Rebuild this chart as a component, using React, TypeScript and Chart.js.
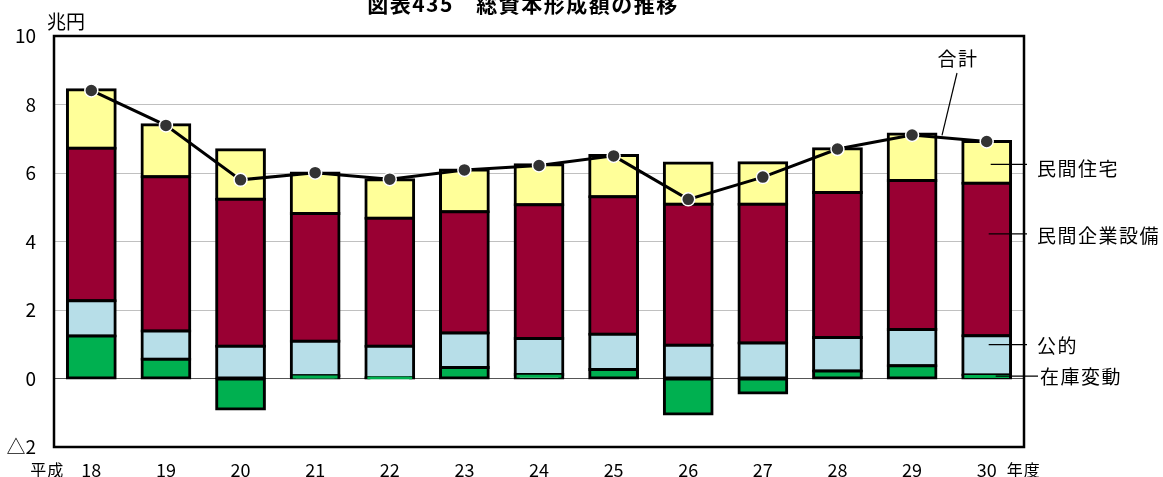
import React, { useEffect, useRef } from "react";
import { Chart, registerables } from "chart.js";

Chart.register(...registerables);

const categories = ["18", "19", "20", "21", "22", "23", "24", "25", "26", "27", "28", "29", "30"];
const inventory = [1.24, 0.56, -0.89, 0.08, 0.02, 0.32, 0.12, 0.26, -1.04, -0.42, 0.22, 0.37, 0.1];
const publicInv = [1.03, 0.83, 0.94, 1.01, 0.92, 1.01, 1.05, 1.03, 0.97, 1.04, 0.98, 1.06, 1.15];
const business = [4.45, 4.5, 4.29, 3.73, 3.74, 3.54, 3.9, 4.02, 4.12, 4.05, 4.23, 4.35, 4.45];
const housing = [1.71, 1.52, 1.45, 1.18, 1.12, 1.22, 1.17, 1.2, 1.2, 1.21, 1.28, 1.36, 1.22];
const total = [8.41, 7.39, 5.8, 6.01, 5.82, 6.09, 6.22, 6.5, 5.23, 5.88, 6.7, 7.11, 6.92];

const title = "図表435\u3000総資本形成額の推移";
const unitLabel = "兆円";
const xPrefix = "平成";
const xSuffix = "年度";
const seriesNames = ["在庫変動", "公的", "民間企業設備", "民間住宅", "合計"];

const JP = '"Noto Sans CJK JP", "Noto Sans", sans-serif';

const textPlugin = {
  id: "textPlugin",
  beforeDatasetsDraw(chart: any) {
    const { ctx, chartArea } = chart;
    ctx.save();
    ctx.strokeStyle = "#000";
    ctx.lineWidth = 2.5;
    ctx.strokeRect(chartArea.left, chartArea.top, chartArea.right - chartArea.left, chartArea.bottom - chartArea.top);
    ctx.restore();
  },
  afterDatasetsDraw(chart: any) {
    const { ctx, chartArea } = chart;
    const xs = chart.scales.x;
    const ys = chart.scales.y;
    ctx.save();
    ctx.fillStyle = "#000";
    ctx.textBaseline = "middle";

    // title
    ctx.font = `bold 21px ${JP}`;
    ctx.textAlign = "center";
    (ctx as any).letterSpacing = "1.5px";
    ctx.fillText(title, 523, 4);
    (ctx as any).letterSpacing = "0px";

    // unit
    ctx.font = `19px ${JP}`;
    ctx.textAlign = "left";
    ctx.fillText(unitLabel, 47, 22);

    // x labels
    const yLab = 470;
    categories.forEach((c, i) => {
      const x = xs.getPixelForValue(i);
      ctx.font = `18px ${JP}`;
      ctx.textAlign = "center";
      ctx.fillText(c, x, yLab);
      if (i === 0) {
        ctx.font = `16px ${JP}`;
        ctx.textAlign = "right";
        (ctx as any).letterSpacing = "1px";
        ctx.fillText(xPrefix, x - 27, yLab);
        (ctx as any).letterSpacing = "0px";
      }
      if (i === categories.length - 1) {
        ctx.font = `16px ${JP}`;
        ctx.textAlign = "left";
        (ctx as any).letterSpacing = "1px";
        ctx.fillText(xSuffix, x + 20, yLab);
        (ctx as any).letterSpacing = "0px";
      }
    });

    // right-side annotations
    const last = categories.length - 1;
    const bx = xs.getPixelForValue(last);
    const lblX = chartArea.right + 12;
    ctx.font = `19px ${JP}`;
    (ctx as any).letterSpacing = "1.5px";
    ctx.lineWidth = 1.2;
    ctx.strokeStyle = "#000";
    const ann = [
      { name: seriesNames[3], v: 6.25, tv: 6.12, x0: bx + 4 },
      { name: seriesNames[2], v: 4.22, tv: 4.17, x0: bx + 2 },
      { name: seriesNames[1], v: 0.99, tv: 0.96, x0: bx + 2 },
      { name: seriesNames[0], v: 0.07, tv: 0.05, x0: bx + 9 },
    ];
    ann.forEach((a, idx) => {
      const y = ys.getPixelForValue(a.v);
      const ty = ys.getPixelForValue(a.tv);
      const xEnd = idx === 3 ? lblX + 2 : lblX - 9;
      ctx.beginPath();
      ctx.moveTo(a.x0, y);
      ctx.lineTo(xEnd, y);
      ctx.stroke();
      ctx.textAlign = "left";
      ctx.fillText(a.name, idx === 3 ? lblX + 4 : lblX + 1, ty);
    });
    // 合計
    ctx.textAlign = "center";
    ctx.fillText(seriesNames[4], 958, 59);
    ctx.beginPath();
    ctx.moveTo(957, 73);
    ctx.lineTo(942, ys.getPixelForValue(7.1));
    ctx.stroke();
    ctx.restore();
  },
};

export default function App() {
  const ref = useRef<HTMLCanvasElement | null>(null);
  useEffect(() => {
    document.body.style.margin = "0";
    const barCommon = {
      type: "bar" as const,
      stack: "comp",
      borderColor: "#000",
      borderWidth: 3,
      borderSkipped: false,
      inflateAmount: 1.5,
      categoryPercentage: 1,
      barPercentage: 0.64,
      order: 2,
    };
    const chart = new Chart(ref.current as HTMLCanvasElement, {
      type: "bar",
      data: {
        labels: categories,
        datasets: [
          { ...barCommon, label: seriesNames[0], data: inventory, backgroundColor: "#00B050" },
          { ...barCommon, label: seriesNames[1], data: publicInv, backgroundColor: "#B7DEE8" },
          { ...barCommon, label: seriesNames[2], data: business, backgroundColor: "#990033" },
          { ...barCommon, label: seriesNames[3], data: housing, backgroundColor: "#FFFF99" },
          {
            type: "line",
            label: seriesNames[4],
            data: total,
            stack: "total",
            order: 0,
            borderColor: "#000",
            borderWidth: 3,
            pointRadius: 6.5,
            pointBackgroundColor: "#333333",
            pointBorderColor: "#fff",
            pointBorderWidth: 1.5,
            fill: false,
            tension: 0,
          } as any,
        ],
      },
      options: {
        animation: false,
        responsive: false,
        maintainAspectRatio: false,
        devicePixelRatio: 1,
        layout: { padding: { left: 0, top: 36, right: 139, bottom: 30 } },
        plugins: {
          legend: { display: false },
          tooltip: { enabled: false },
          title: { display: false },
        },
        scales: {
          x: {
            stacked: true,
            offset: true,
            grid: { display: false },
            border: { display: false },
            ticks: { display: false },
            afterFit: (s: any) => {
              s.height = 0;
            },
          },
          y: {
            stacked: true,
            min: -2,
            max: 10,
            ticks: {
              stepSize: 2,
              color: "#000",
              padding: 18,
              font: { size: 19, family: JP },
              callback: (v: any) => (Number(v) < 0 ? "△" + Math.abs(Number(v)) : String(v)),
            },
            grid: {
              drawTicks: false,
              lineWidth: 1,
              color: (c: any) => {
                const v = c.tick ? c.tick.value : null;
                if (v === 0) return "#555555";
                if (v === 10 || v === -2) return "rgba(0,0,0,0)";
                return "#c0c0c0";
              },
            },
            border: { display: false },
            afterFit: (s: any) => {
              s.width = 54;
            },
          },
        },
      },
      plugins: [textPlugin],
    } as any);
    return () => chart.destroy();
  }, []);
  return (
    <div style={{ position: "fixed", left: 0, top: 0, width: 1163, height: 477 }}>
      <canvas ref={ref} width={1163} height={477} style={{ width: 1163, height: 477 }} />
    </div>
  );
}
